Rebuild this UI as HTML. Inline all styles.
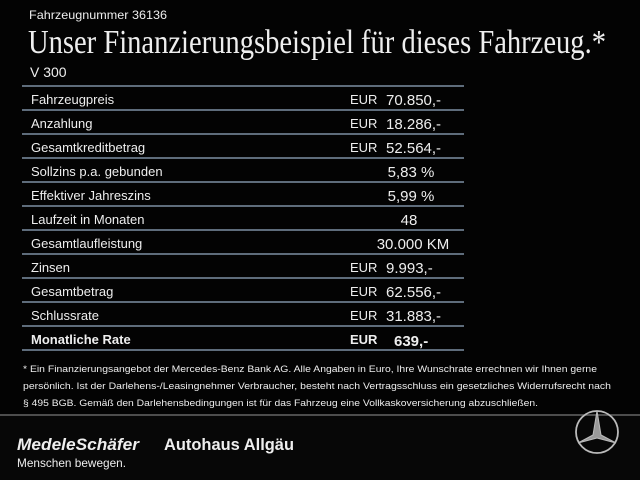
<!DOCTYPE html>
<html><head><meta charset="utf-8"><style>
html,body{margin:0;padding:0;background:#000;}
svg{display:block}
text{font-family:"Liberation Sans",sans-serif;fill:#eee}
</style></head><body>
<svg width="640" height="480" viewBox="0 0 640 480">
<rect width="640" height="480" fill="#030303"/>
<text x="29" y="19" font-size="12" textLength="138" lengthAdjust="spacingAndGlyphs">Fahrzeugnummer 36136</text>
<text x="28" y="53" font-size="34" style="font-family:'Liberation Serif',serif" fill="#f2f2f2" textLength="578" lengthAdjust="spacingAndGlyphs">Unser Finanzierungsbeispiel für dieses Fahrzeug.*</text>
<text x="30" y="77" font-size="14">V 300</text>
<g stroke="#7d8fa3" stroke-width="1.5">
<line x1="22" y1="86" x2="464" y2="86"/><line x1="22" y1="110" x2="464" y2="110"/>
<line x1="22" y1="134" x2="464" y2="134"/><line x1="22" y1="158" x2="464" y2="158"/>
<line x1="22" y1="182" x2="464" y2="182"/><line x1="22" y1="206" x2="464" y2="206"/>
<line x1="22" y1="230" x2="464" y2="230"/><line x1="22" y1="254" x2="464" y2="254"/>
<line x1="22" y1="278" x2="464" y2="278"/><line x1="22" y1="302" x2="464" y2="302"/>
<line x1="22" y1="326" x2="464" y2="326"/><line x1="22" y1="350" x2="464" y2="350"/>
</g>
<g font-size="13">
<text x="31" y="104">Fahrzeugpreis</text>
<text x="31" y="128">Anzahlung</text>
<text x="31" y="152">Gesamtkreditbetrag</text>
<text x="31" y="176">Sollzins p.a. gebunden</text>
<text x="31" y="200">Effektiver Jahreszins</text>
<text x="31" y="224">Laufzeit in Monaten</text>
<text x="31" y="248">Gesamtlaufleistung</text>
<text x="31" y="272">Zinsen</text>
<text x="31" y="296">Gesamtbetrag</text>
<text x="31" y="320">Schlussrate</text>
<text x="31" y="344" font-weight="bold">Monatliche Rate</text>
<text x="350" y="104">EUR</text><text x="350" y="128">EUR</text><text x="350" y="152">EUR</text>
<text x="350" y="272">EUR</text><text x="350" y="296">EUR</text><text x="350" y="320">EUR</text>
<text x="350" y="344" font-weight="bold">EUR</text>
</g>
<g font-size="15">
<text x="386" y="105">70.850,-</text>
<text x="386" y="129">18.286,-</text>
<text x="386" y="153">52.564,-</text>
<text x="411" y="177" text-anchor="middle">5,83 %</text>
<text x="411" y="201" text-anchor="middle">5,99 %</text>
<text x="409" y="225" text-anchor="middle">48</text>
<text x="413" y="249" text-anchor="middle">30.000 KM</text>
<text x="386" y="273">9.993,-</text>
<text x="386" y="297">62.556,-</text>
<text x="386" y="321">31.883,-</text>
<text x="394" y="346" font-weight="bold">639,-</text>
</g>
<g font-size="9.5" fill="#ddd">
<text x="23" y="372" textLength="574" lengthAdjust="spacingAndGlyphs">* Ein Finanzierungsangebot der Mercedes-Benz Bank AG. Alle Angaben in Euro, Ihre Wunschrate errechnen wir Ihnen gerne</text>
<text x="23" y="389" textLength="588" lengthAdjust="spacingAndGlyphs">persönlich. Ist der Darlehens-/Leasingnehmer Verbraucher, besteht nach Vertragsschluss ein gesetzliches Widerrufsrecht nach</text>
<text x="23" y="406" textLength="515" lengthAdjust="spacingAndGlyphs">§ 495 BGB. Gemäß den Darlehensbedingungen ist für das Fahrzeug eine Vollkaskoversicherung abzuschließen.</text>
</g>
<line x1="0" y1="415" x2="640" y2="415" stroke="#666" stroke-width="1.5"/>
<rect x="0" y="416" width="640" height="64" fill="#070707"/>
<text x="17" y="450" font-size="17" font-weight="bold" font-style="italic" textLength="122" lengthAdjust="spacingAndGlyphs">MedeleSchäfer</text>
<text x="164" y="450" font-size="17" font-weight="bold" textLength="130" lengthAdjust="spacingAndGlyphs">Autohaus Allgäu</text>
<text x="17" y="467" font-size="12" fill="#ccc" textLength="109" lengthAdjust="spacingAndGlyphs">Menschen bewegen.</text>
<g stroke="#bbb" fill="none" stroke-width="1.8">
<circle cx="597" cy="432" r="21"/>
<path d="M597 411 L601 435 L616 443 L597 438 L578 443 L593 435 Z" fill="#999" stroke-width="1"/>
</g>
</svg>
</body></html>
